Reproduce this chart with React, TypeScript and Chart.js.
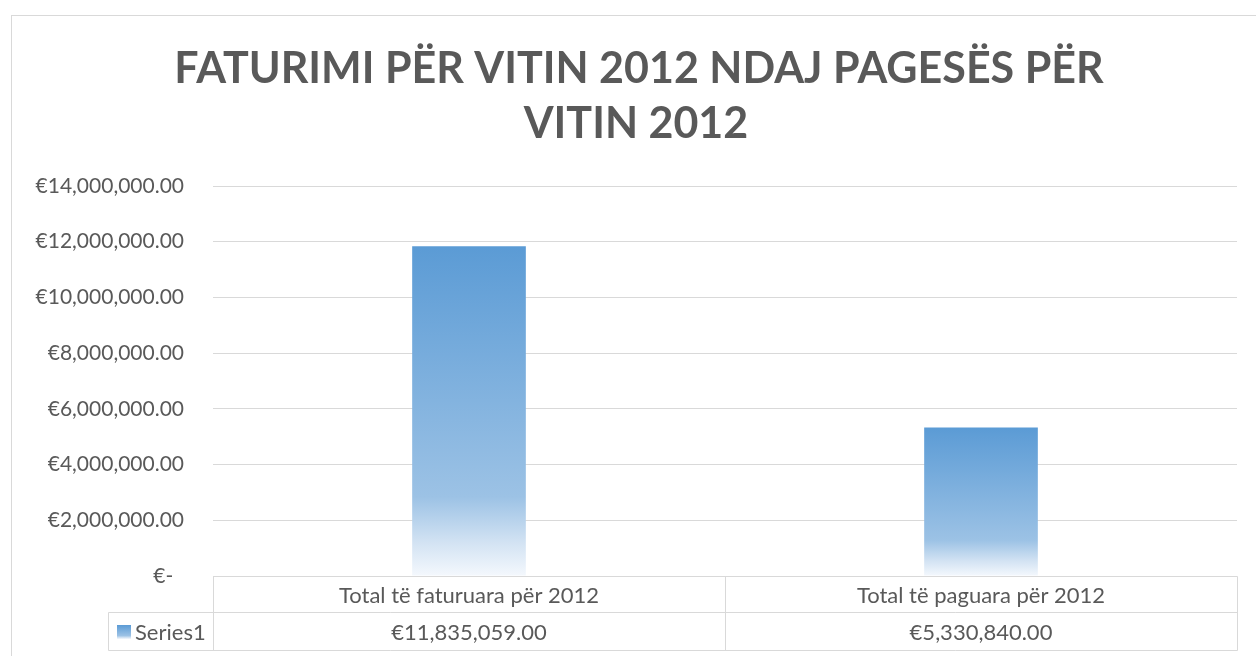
import React, { useEffect, useRef } from "react";
import { Chart, registerables } from "chart.js";

Chart.register(...registerables);

const titleLines = ["FATURIMI PËR VITIN 2012 NDAJ PAGESËS PËR", "VITIN 2012"];
const categories = ["Total të faturuara për 2012", "Total të paguara për 2012"];
const seriesName = "Series1";
const values = [11835059, 5330840];
const valueLabels = ["€11,835,059.00", "€5,330,840.00"];
const yMax = 14000000;
const yStep = 2000000;

const FONT = "Lato, 'Open Sans', sans-serif";
const TEXT = "#595959";
const LINE = "#d9d9d9";

function fmtTick(v: number): string {
  if (v === 0) return "€-  ";
  return "€" + v.toLocaleString("en-US", { minimumFractionDigits: 2, maximumFractionDigits: 2 });
}

function barGradient(ctx: CanvasRenderingContext2D, top: number, bottom: number) {
  const g = ctx.createLinearGradient(0, top, 0, bottom);
  g.addColorStop(0, "#5b9bd5");
  g.addColorStop(0.76, "#9cc2e5");
  g.addColorStop(0.9, "#d3e3f3");
  g.addColorStop(1, "#f4f8fd");
  return g;
}

const decorPlugin = {
  id: "decor",
  beforeDraw(chart: any) {
    const ctx = chart.ctx;
    ctx.save();
    ctx.fillStyle = "#ffffff";
    ctx.fillRect(0, 0, chart.width, chart.height);
    ctx.strokeStyle = LINE;
    ctx.lineWidth = 1;
    ctx.strokeRect(11.5, 15.5, 1400, 800);
    ctx.fillStyle = TEXT;
    ctx.font = `bold 43px ${FONT}`;
    ctx.textAlign = "center";
    ctx.textBaseline = "alphabetic";
    ctx.fillText(titleLines[0], 639, 83);
    ctx.fillText(titleLines[1], 636, 138);
    ctx.restore();
  },
  afterDraw(chart: any) {
    const ctx = chart.ctx;
    const x = chart.scales.x;
    const area = chart.chartArea;
    const top = Math.round(area.bottom) + 0.5;
    const mid = top + 36;
    const bot = top + 74;
    const left = Math.round(area.left) + 0.5;
    const right = Math.round(area.right) + 0.5;
    const legLeft = 108.5;
    ctx.save();
    ctx.strokeStyle = LINE;
    ctx.lineWidth = 1;
    ctx.beginPath();
    ctx.moveTo(left, top); ctx.lineTo(right, top);
    ctx.moveTo(legLeft, mid); ctx.lineTo(right, mid);
    ctx.moveTo(legLeft, bot); ctx.lineTo(right, bot);
    ctx.moveTo(legLeft, mid); ctx.lineTo(legLeft, bot);
    ctx.moveTo(left, top); ctx.lineTo(left, bot);
    ctx.moveTo(right, top); ctx.lineTo(right, bot);
    for (let i = 0; i < categories.length - 1; i++) {
      const b = Math.round((x.getPixelForValue(i) + x.getPixelForValue(i + 1)) / 2) + 0.5;
      ctx.moveTo(b, top); ctx.lineTo(b, bot);
    }
    ctx.stroke();
    ctx.fillStyle = TEXT;
    ctx.font = `22px ${FONT}`;
    ctx.textAlign = "center";
    ctx.textBaseline = "middle";
    categories.forEach((c, i) => {
      const cx = x.getPixelForValue(i);
      ctx.fillText(c, cx, (top + mid) / 2 + 1);
      ctx.fillText(valueLabels[i], cx, (mid + bot) / 2 + 1);
    });
    ctx.textAlign = "left";
    ctx.fillText(seriesName, 135, (mid + bot) / 2 + 1);
    ctx.fillStyle = barGradient(ctx, 625, 639);
    ctx.fillRect(117, 625, 14, 14);
    ctx.restore();
  },
};

export default function App() {
  const ref = useRef<HTMLCanvasElement>(null);
  useEffect(() => {
    const canvas = ref.current!;
    const chart = new Chart(canvas, {
      type: "bar",
      data: {
        labels: categories,
        datasets: [
          {
            label: seriesName,
            data: values,
            backgroundColor: (c: any) => {
              const ch = c.chart;
              const y = ch.scales && ch.scales.y;
              if (!ch.chartArea || !y || c.raw == null) return "#5b9bd5";
              const t = y.getPixelForValue(c.raw as number);
              const b = y.getPixelForValue(0);
              return barGradient(ch.ctx, t, b);
            },
            borderWidth: 0,
            categoryPercentage: 1,
            barPercentage: 0.222,
          },
        ],
      },
      options: {
        animation: false,
        responsive: false,
        maintainAspectRatio: false,
        devicePixelRatio: 1,
        layout: { padding: { left: 11, top: 186, right: 19, bottom: 0 } },
        plugins: {
          legend: { display: false },
          title: { display: false },
          tooltip: { enabled: false },
        },
        scales: {
          x: {
            grid: { display: false },
            border: { display: false },
            ticks: { display: false },
            afterFit: (s: any) => { s.height = 80; },
          },
          y: {
            min: 0,
            max: yMax,
            ticks: {
              stepSize: yStep,
              color: TEXT,
              font: { family: FONT, size: 21 },
              padding: 29,
              callback: (v: any) => fmtTick(Number(v)),
            },
            grid: { color: LINE, lineWidth: 1, drawTicks: false },
            border: { display: false },
            afterFit: (s: any) => { s.width = 202; },
          },
        },
      },
      plugins: [decorPlugin],
    });
    return () => chart.destroy();
  }, []);
  return (
    <div style={{ position: "absolute", left: 0, top: 0, width: 1256, height: 656, overflow: "hidden" }}>
      <canvas ref={ref} width={1256} height={656} style={{ display: "block", width: 1256, height: 656 }} />
    </div>
  );
}
